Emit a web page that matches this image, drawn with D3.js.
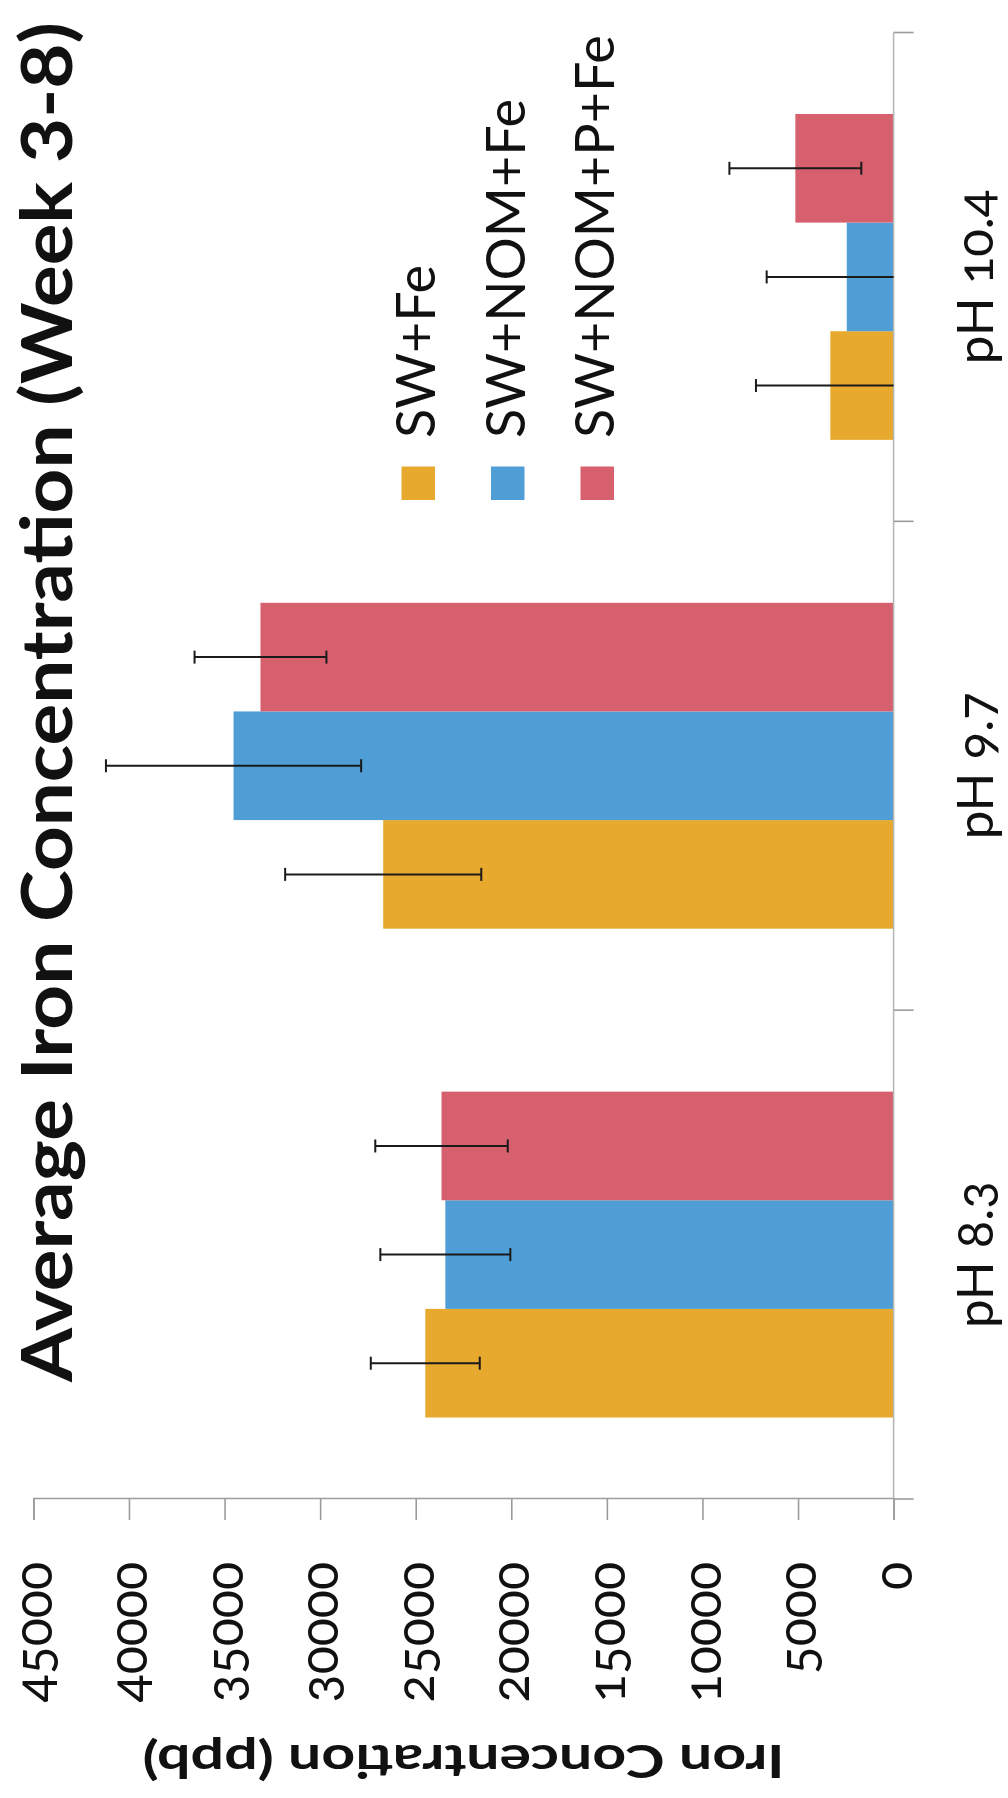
<!DOCTYPE html>
<html>
<head>
<meta charset="utf-8">
<script src="https://cdn.jsdelivr.net/npm/d3@7"></script>
<style>
  html, body { margin: 0; padding: 0; background: #ffffff; }
  svg { display: block; }
  text { font-family: Lato, "Open Sans", "DejaVu Sans", sans-serif; fill: #111; }
</style>
</head>
<body>
<svg id="chart" width="1008" height="1798"></svg>
<script>
// ---- data ----
const categories = ["pH 8.3", "pH 9.7", "pH 10.4"];
const seriesNames = ["SW+Fe", "SW+NOM+Fe", "SW+NOM+P+Fe"];
const seriesColors = ["#E8AA2E", "#4F9ED6", "#D7606F"];
const swFe = [24500, 26700, 3310];
const swFeErr = [2850, 5130, 3890];
const swNomFe = [23450, 34530, 2450];
const swNomFeErr = [3400, 6675, 4190];
const swNomPFe = [23650, 33120, 5140];
const swNomPFeErr = [3465, 3450, 3450];
const yTicks = [0, 5000, 10000, 15000, 20000, 25000, 30000, 35000, 40000, 45000];
const chartTitle = "Average Iron Concentration (Week 3-8)";
const yTitle = "Iron Concentration (ppb)";

const seriesValues = [swFe, swNomFe, swNomPFe];
const seriesErrors = [swFeErr, swNomFeErr, swNomPFeErr];

// ---- layout (chart is drawn in its own frame, then rotated -90deg onto the page) ----
const PAGE_W = 1008, PAGE_H = 1798;
const plot = { left: 299, right: 1765.5, top: 33.4, bottom: 893.6 };

const svg = d3.select("#chart");
const root = svg.append("g").attr("transform", `translate(0,${PAGE_H}) rotate(-90)`);

const x0 = d3.scaleBand().domain(categories).range([plot.left, plot.right]).paddingInner(0).paddingOuter(0);
const x1 = d3.scaleBand().domain(seriesNames).range([0, x0.bandwidth()]).paddingInner(0).paddingOuter(0.75);
const y = d3.scaleLinear().domain([0, 45000]).range([plot.bottom, plot.top]);

// rows
const rows = [];
categories.forEach((c, ci) => {
  seriesNames.forEach((s, si) => {
    rows.push({ cat: c, ser: s, si, v: seriesValues[si][ci], e: seriesErrors[si][ci] });
  });
});

// bars
root.append("g").selectAll("rect").data(rows).join("rect")
  .attr("x", d => x0(d.cat) + x1(d.ser))
  .attr("width", x1.bandwidth())
  .attr("y", d => y(d.v))
  .attr("height", d => y(0) - y(d.v))
  .attr("fill", d => seriesColors[d.si]);

// value axis
const yAxis = d3.axisLeft(y).tickValues(yTicks).tickFormat(d3.format("d")).tickSize(21).tickPadding(42);
const yAx = root.append("g").attr("transform", `translate(${plot.left},0)`).call(yAxis);
yAx.select(".domain").attr("stroke", "#9c9c9c").attr("stroke-width", 1.6);
yAx.selectAll(".tick line").attr("stroke", "#9c9c9c").attr("stroke-width", 1.6);
yAx.selectAll(".tick text")
  .style("font-family", "Lato, 'Open Sans', sans-serif")
  .style("font-variant-numeric", "oldstyle-nums")
  .style("font-feature-settings", "'onum' 1")
  .attr("font-size", 52).attr("fill", "#111").attr("dy", "0.34em");

// category axis line + boundary ticks
const catAxis = root.append("g");
catAxis.append("line")
  .attr("x1", plot.left).attr("x2", plot.right)
  .attr("y1", y(0)).attr("y2", y(0))
  .attr("stroke", "#b4b4b4").attr("stroke-width", 1.5);
const bounds = categories.map(c => x0(c)).concat([x0(categories[categories.length - 1]) + x0.bandwidth()]);
catAxis.selectAll("line.tk").data(bounds).join("line").attr("class", "tk")
  .attr("x1", d => d).attr("x2", d => d)
  .attr("y1", y(0)).attr("y2", y(0) + 20)
  .attr("stroke", "#9c9c9c").attr("stroke-width", 1.6);
catAxis.selectAll("text").data(categories).join("text")
  .attr("x", d => x0(d) + x0.bandwidth() / 2)
  .attr("y", 993)
  .attr("text-anchor", "middle")
  .attr("font-size", 51)
  .style("font-feature-settings", "'onum' 1")
  .text(d => d);

// error bars
const capHalf = 6.5;
const eb = root.append("g").attr("stroke", "#1a1a1a").attr("stroke-width", 2).attr("fill", "none");
rows.forEach(d => {
  const cx = x0(d.cat) + x1(d.ser) + x1.bandwidth() / 2;
  const hi = d.v + d.e, lo = Math.max(0, d.v - d.e);
  eb.append("line").attr("x1", cx).attr("x2", cx).attr("y1", y(hi)).attr("y2", y(lo));
  eb.append("line").attr("x1", cx - capHalf).attr("x2", cx + capHalf).attr("y1", y(hi)).attr("y2", y(hi));
  if (d.v - d.e >= 0) {
    eb.append("line").attr("x1", cx - capHalf).attr("x2", cx + capHalf).attr("y1", y(lo)).attr("y2", y(lo));
  }
});

// legend
const legendBaselines = [435, 524.5, 614];
const lg = root.append("g");
seriesNames.forEach((s, i) => {
  const by = legendBaselines[i];
  lg.append("rect").attr("x", 1298).attr("y", by - 33.5).attr("width", 33.5).attr("height", 33.5)
    .attr("fill", seriesColors[i]);
  lg.append("text").attr("x", 1360).attr("y", by).attr("font-size", 54).text(s);
});

// chart title
root.append("text")
  .attr("x", 416).attr("y", 72)
  .attr("font-size", 70).attr("font-weight", "bold")
  .attr("textLength", 1360).attr("lengthAdjust", "spacingAndGlyphs")
  .text(chartTitle);

// value axis title
root.append("text")
  .attr("transform", `translate(53,${(plot.top + plot.bottom) / 2}) rotate(-90)`)
  .attr("text-anchor", "middle")
  .attr("font-size", 46).attr("font-weight", "bold")
  .attr("textLength", 642).attr("lengthAdjust", "spacingAndGlyphs")
  .text(yTitle);
</script>
</body>
</html>
